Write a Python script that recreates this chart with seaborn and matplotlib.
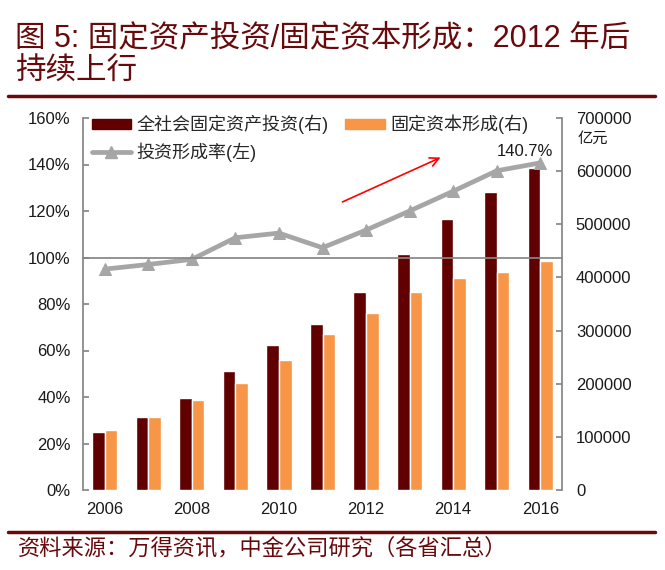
import matplotlib
matplotlib.use("Agg")
import matplotlib.pyplot as plt
import seaborn as sns
import pandas as pd
import numpy as np
from matplotlib.patches import Patch
from matplotlib.lines import Line2D

# ===== data =====
years = ['2006', '2007', '2008', '2009', '2010', '2011', '2012', '2013', '2014', '2015', '2016']
invest = [109998, 137324, 172828, 224599, 272000, 311485, 372000, 444000, 510000, 560000, 605000]
formation = [112000, 138000, 170000, 202000, 245000, 293000, 333000, 372000, 398000, 410000, 431000]
ratio = [95.0, 97.0, 99.2, 108.5, 110.5, 104.2, 111.8, 120.0, 128.5, 137.3, 140.7]

name_invest = '全社会固定资产投资(右)'
name_form = '固定资本形成(右)'
name_ratio = '投资形成率(左)'

left_ticks = [0, 20, 40, 60, 80, 100, 120, 140, 160]
right_ticks = [0, 100000, 200000, 300000, 400000, 500000, 600000, 700000]

DARK = '#600000'
ORANGE = '#F79646'
GREY = '#A6A6A6'
AXGREY = '#868686'
TITLE = '#680A0C'

sns.set_theme(style='white')
plt.rcParams['font.family'] = ['Liberation Sans', 'Noto Sans CJK SC']

fig = plt.figure(figsize=(6.65, 5.7), dpi=100)
ax_bar = fig.add_axes([83/665, 1-490/570, 479/665, 372/570])

# ===== bars on the right axis =====
df = pd.DataFrame({
    'year': years * 2,
    'value': invest + formation,
    'series': [name_invest] * len(years) + [name_form] * len(years),
})
sns.barplot(data=df, x='year', y='value', hue='series', palette=[DARK, ORANGE],
            width=0.58, gap=0, saturation=1, legend=False, ax=ax_bar)

# ===== line on the left axis =====
ax_line = ax_bar.twinx()
sns.lineplot(x=np.arange(len(years)), y=ratio, ax=ax_line, color=GREY, lw=3.4,
             marker='^', markersize=9, markeredgecolor=GREY)

ax_bar.set_xlim(-0.5, len(years) - 0.5)
ax_bar.set_ylim(0, 700000)
ax_line.set_ylim(0, 160)
ax_bar.set_xlabel('')
ax_bar.set_ylabel('')
ax_line.set_ylabel('')

# y axes
ax_bar.yaxis.tick_right()
ax_bar.set_yticks(right_ticks, [str(v) for v in right_ticks])
ax_line.yaxis.tick_left()
ax_line.set_yticks(left_ticks, [f'{v}%' for v in left_ticks])
ax_bar.tick_params(axis='y', direction='in', length=4, color=AXGREY, labelsize=12,
                   labelcolor='#1a1a1a', pad=10, right=True, left=False)
ax_line.tick_params(axis='y', direction='in', length=4, color=AXGREY, labelsize=12,
                    labelcolor='#1a1a1a', pad=9, left=True, right=False)

# x axis: labels every 2 years at bottom, boundary ticks on the 100% line
ax_bar.set_xticks(range(0, len(years), 2), years[::2])
ax_bar.set_xticks(np.arange(1.5, len(years) - 1, 2), minor=True)
ax_bar.tick_params(axis='x', which='major', length=0, labelsize=12, labelcolor='#1a1a1a', pad=9)
ax_bar.tick_params(axis='x', which='minor', length=0)
ax_line.xaxis.set_visible(True)
ax_line.spines['bottom'].set_position(('data', 100))
ax_line.tick_params(axis='x', which='major', length=0, labelbottom=False)
ax_line.tick_params(axis='x', which='minor', length=4, direction='in', color=AXGREY, labelbottom=False)

for s in ['top', 'left', 'bottom']:
    ax_bar.spines[s].set_visible(False)
ax_bar.spines['right'].set_color(AXGREY)
for s in ['top', 'right']:
    ax_line.spines[s].set_visible(False)
ax_line.spines['left'].set_color(AXGREY)
ax_line.spines['bottom'].set_color(AXGREY)

# annotations
ax_line.text(9.66, 145.5, '140.7%', ha='center', va='center', fontsize=12, color='#1a1a1a')
ax_line.annotate('', xy=(7.77, 143.5), xytext=(5.40, 123.4),
                 arrowprops=dict(arrowstyle='->', color='red', lw=1.2, mutation_scale=16))
fig.text(578/665, 1-139/570, '亿元', fontsize=11, va='center', ha='left', color='#1a1a1a')

# legend
handles = [Patch(color=DARK),
           Line2D([0], [0], color=GREY, lw=3.4, marker='^', markersize=8),
           Patch(color=ORANGE)]
labels = [name_invest, name_ratio, name_form]
fig.legend(handles, labels, ncol=2, loc='upper left', bbox_to_anchor=(88/665, 1-111/570),
           frameon=False, fontsize=13, handlelength=2.2, handleheight=0.45,
           handletextpad=0.3, columnspacing=0.9, labelspacing=0.45, borderpad=0.2,
           borderaxespad=0)

# title, rules and source
fig.text(15/665, 1-38/570, '图 5: 固定资产投资/固定资本形成：2012 年后', fontsize=22,
         color=TITLE, va='center', ha='left')
fig.text(15/665, 1-72/570, '持续上行', fontsize=22, color=TITLE, va='center', ha='left')
fig.add_artist(Line2D([8/665, 655/665], [1-96/570, 1-96/570], transform=fig.transFigure,
                      color=TITLE, lw=2.5))
fig.add_artist(Line2D([8/665, 655/665], [1-532/570, 1-532/570], transform=fig.transFigure,
                      color=TITLE, lw=2.5))
fig.text(18/665, 1-549/570, '资料来源：万得资讯，中金公司研究（各省汇总）', fontsize=16,
         color=TITLE, va='center', ha='left')

fig.savefig('out.png', dpi=100)
